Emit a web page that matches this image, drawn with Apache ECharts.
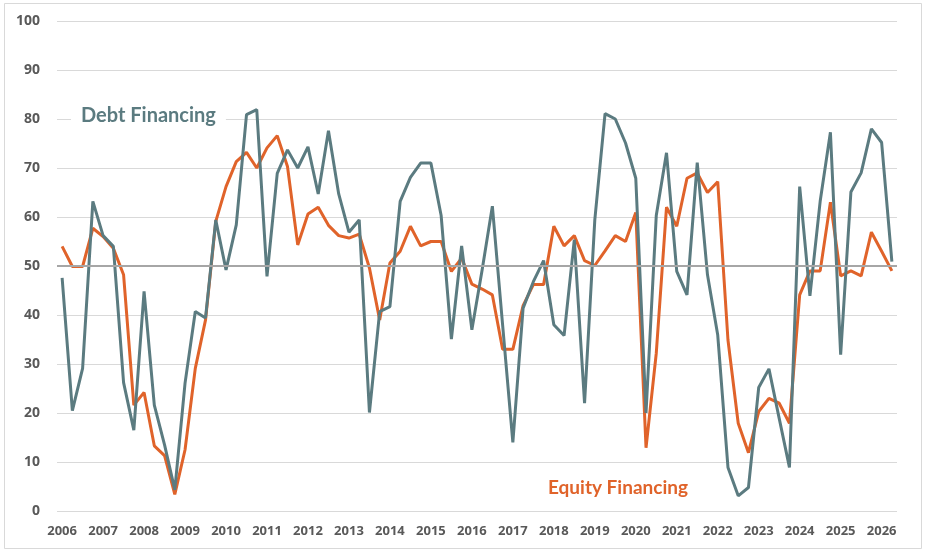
<!DOCTYPE html>
<html>
<head>
<meta charset="utf-8">
<script src="https://cdn.jsdelivr.net/npm/echarts@6/dist/echarts.min.js"></script>
<style>
  html, body { margin: 0; padding: 0; background: #fff; }
  #chart { width: 925px; height: 553px; }
</style>
</head>
<body>
<div id="chart"></div>
<script>
// quarterly readings, 2006 Q1 .. 2026 Q2
const years = ['2006', '2007', '2008', '2009', '2010', '2011', '2012', '2013', '2014', '2015', '2016',
  '2017', '2018', '2019', '2020', '2021', '2022', '2023', '2024', '2025', '2026']

const quarters = []
years.forEach(function (y) {
  ['Q1', 'Q2', 'Q3', 'Q4'].forEach(function (q) { quarters.push(y + ' ' + q) })
})
const categories = quarters.slice(0, 82)

const debtFinancing = [47.6, 20.5, 29.1, 63.2, 56.2, 54.0, 26.2, 16.5, 44.8, 21.6,
  13.5, 4.3, 26.1, 40.7, 39.4, 59.4, 49.2, 58.4, 80.9, 81.9,
  47.9, 68.9, 73.7, 70.0, 74.3, 64.7, 77.6, 64.7, 56.9, 59.4,
  20.1, 40.7, 41.7, 63.2, 68.1, 71.0, 71.0, 60.3, 35.1, 54.1,
  37.0, 49.2, 62.2, 38.0, 14.0, 41.4, 46.8, 51.1, 38.0, 35.8,
  55.4, 22.0, 59.4, 81.1, 80.0, 75.1, 67.9, 20.0, 60.3, 73.1,
  48.9, 44.1, 71.1, 48.2, 35.9, 8.9, 3.1, 4.8, 25.2, 29.0,
  18.9, 8.9, 66.2, 43.9, 63.2, 77.3, 31.9, 65.1, 69.0, 78.0,
  75.2, 50.9]

const equityFinancing = [54.0, 49.9, 49.9, 57.7, 56.0, 53.6, 48.2, 21.6, 24.2, 13.3,
  11.3, 3.4, 12.5, 29.1, 39.0, 59.1, 66.2, 71.3, 73.2, 70.0,
  74.1, 76.6, 70.3, 54.3, 60.6, 62.0, 58.3, 56.2, 55.7, 56.5,
  49.6, 39.0, 50.6, 53.0, 58.1, 54.1, 55.0, 55.0, 48.9, 51.6,
  46.3, 45.3, 44.1, 33.0, 33.0, 41.9, 46.2, 46.2, 58.1, 54.1,
  56.2, 51.1, 50.1, 53.1, 56.2, 55.0, 60.9, 12.9, 32.2, 62.0,
  58.1, 67.9, 69.0, 65.0, 67.2, 34.9, 17.9, 11.9, 20.3, 23.0,
  22.0, 17.9, 44.1, 49.0, 49.0, 63.0, 48.0, 49.0, 48.0, 56.9,
  53.0, 49.0]

const neutralLevel = 50

const chart = echarts.init(document.getElementById('chart'), null, { renderer: 'canvas' })

const labelFont = '"Open Sans", "DejaVu Sans", sans-serif'
const noteFont = 'Lato, "Open Sans", sans-serif'

const option = {
  animation: false,
  backgroundColor: '#fff',
  grid: { left: 57, right: 28, top: 21, bottom: 42 },
  xAxis: {
    type: 'category',
    data: categories,
    boundaryGap: true,
    axisLine: { show: false },
    axisTick: { show: false },
    axisLabel: {
      interval: function (idx) { return idx % 4 === 0 },
      formatter: function (v, idx) { return years[Math.floor(idx / 4)] },
      color: '#595959',
      fontWeight: 'bold',
      fontSize: 13,
      fontFamily: labelFont,
      margin: 14
    },
    splitLine: { show: false }
  },
  yAxis: {
    type: 'value',
    min: 0,
    max: 100,
    interval: 10,
    axisLine: { show: false },
    axisTick: { show: false },
    axisLabel: {
      color: '#595959',
      fontWeight: 'bold',
      fontSize: 14,
      fontFamily: labelFont,
      margin: 17
    },
    splitLine: { lineStyle: { color: '#d9d9d9', width: 1 } }
  },
  series: [
    {
      name: 'Equity Financing',
      type: 'line',
      data: equityFinancing,
      showSymbol: false,
      lineStyle: { color: '#e0632a', width: 3 },
      itemStyle: { color: '#e0632a' },
      z: 3,
      markLine: {
        silent: true,
        symbol: 'none',
        label: { show: false },
        lineStyle: { color: '#a6a6a6', width: 2, type: 'solid' },
        data: [{ yAxis: neutralLevel }]
      }
    },
    {
      name: 'Debt Financing',
      type: 'line',
      data: debtFinancing,
      showSymbol: false,
      lineStyle: { color: '#5b7b80', width: 3 },
      itemStyle: { color: '#5b7b80' },
      z: 4
    }
  ],
  graphic: [
    {
      type: 'rect',
      shape: { x: 4.5, y: 3.5, width: 917, height: 545 },
      style: { fill: 'none', stroke: '#d9d9d9', lineWidth: 1 },
      z: 0
    },
    {
      type: 'text',
      left: 71,
      top: 106,
      style: {
        text: 'Debt Financing',
        fill: '#5b7b80',
        font: 'bold 20px ' + noteFont,
        backgroundColor: '#fff',
        padding: [0, 10, 0, 10]
      },
      z: 10
    },
    {
      type: 'text',
      left: 548,
      top: 478,
      style: {
        text: 'Equity Financing',
        fill: '#e0632a',
        font: 'bold 19px ' + noteFont
      },
      z: 10
    }
  ]
}

chart.setOption(option)
</script>
</body>
</html>
